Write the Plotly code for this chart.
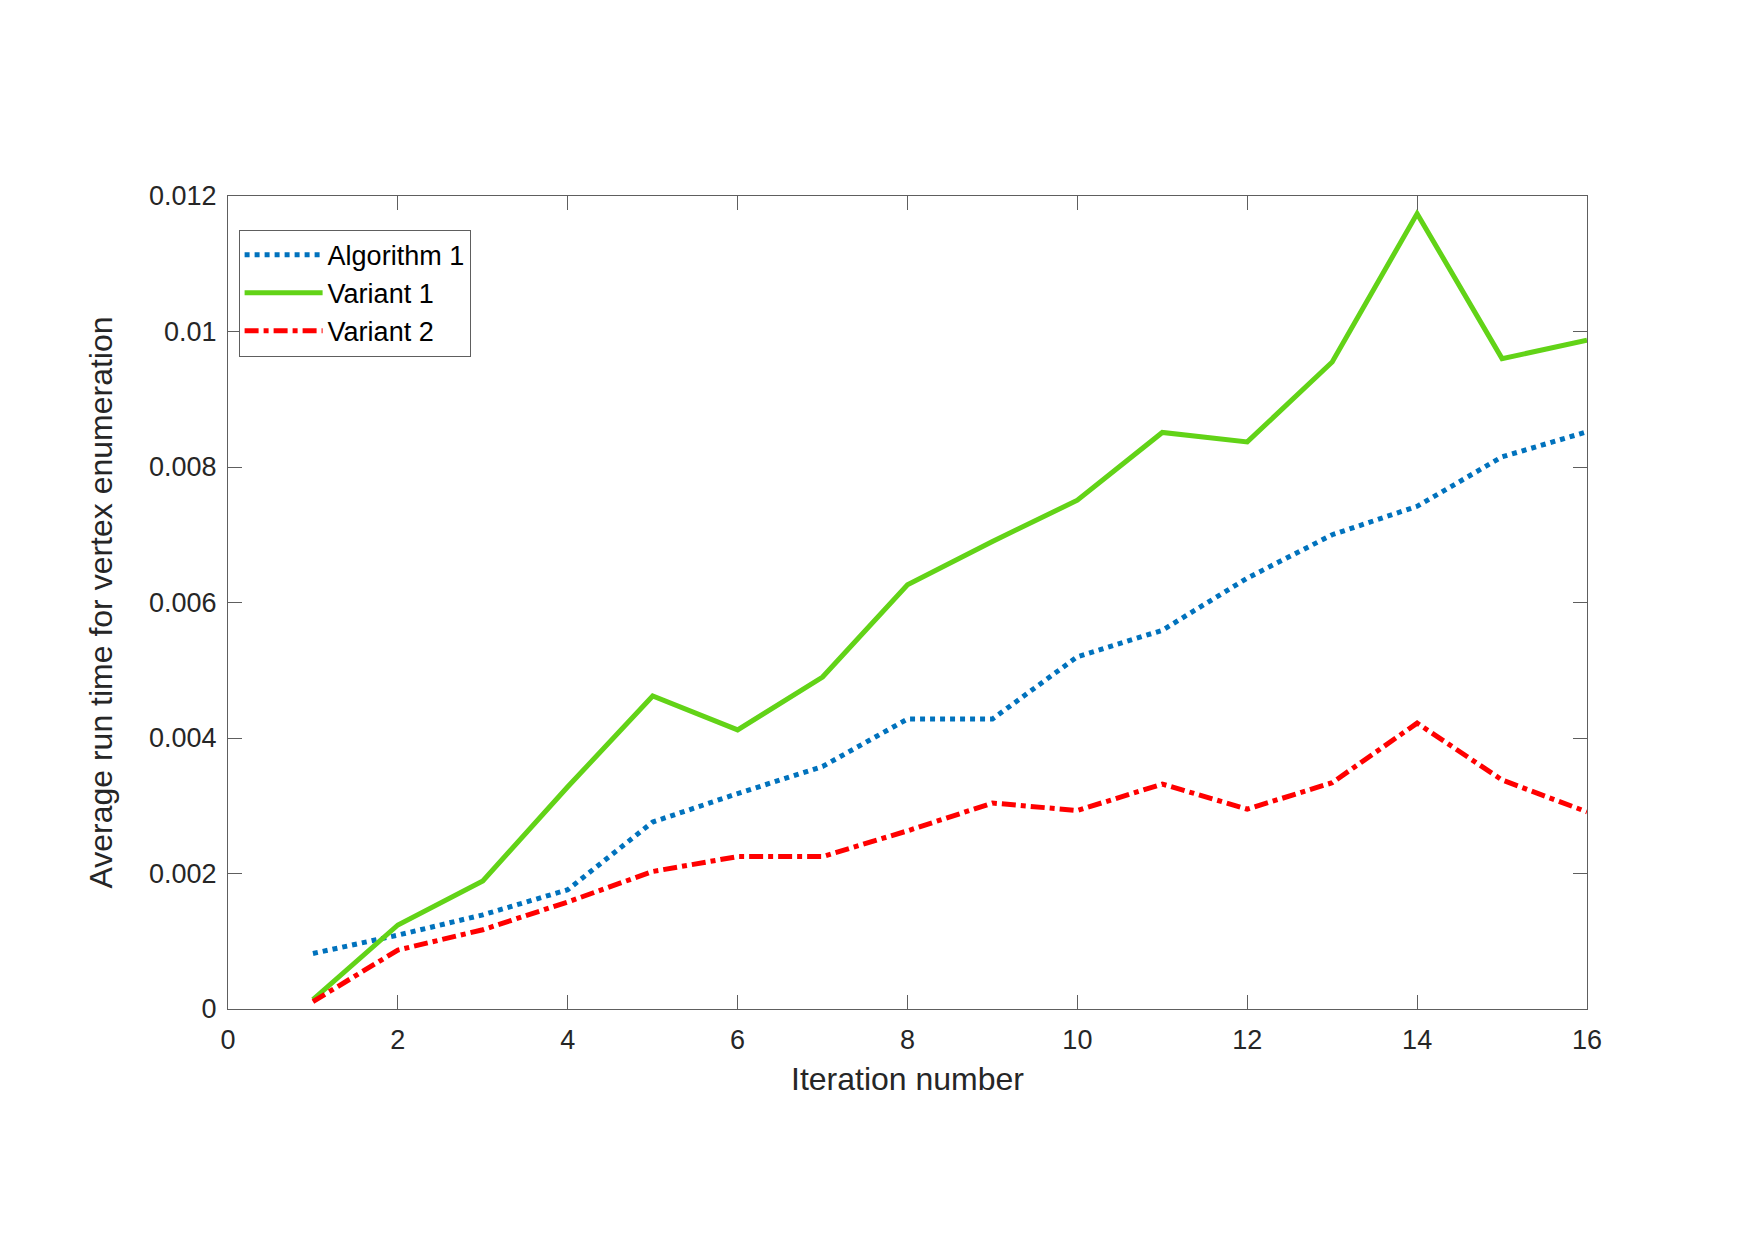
import plotly.graph_objects as go

iterations = list(range(1, 17))
algorithm_1 = [0.00082, 0.00109, 0.00139, 0.00176, 0.00276, 0.00318, 0.00358, 0.00428,
               0.00428, 0.00520, 0.00559, 0.00636, 0.00700, 0.00742, 0.00815, 0.00852]
variant_1 = [0.00014, 0.00124, 0.00189, 0.00328, 0.00462, 0.00412, 0.00490, 0.00626,
             0.00690, 0.00751, 0.00851, 0.00837, 0.00955, 0.01174, 0.00960, 0.00987]
variant_2 = [0.00011, 0.00087, 0.00117, 0.00158, 0.00203, 0.00225, 0.00225, 0.00263,
             0.00304, 0.00293, 0.00332, 0.00295, 0.00334, 0.00422, 0.00338, 0.00291]

x_ticks = [0, 2, 4, 6, 8, 10, 12, 14, 16]
y_ticks = [0, 0.002, 0.004, 0.006, 0.008, 0.01, 0.012]
y_tick_labels = ["0", "0.002", "0.004", "0.006", "0.008", "0.01", "0.012"]

FONT = "Liberation Sans, Arial, Helvetica, sans-serif"
TXT = "#262626"
AX = "#5e5e5e"

fig = go.Figure()
fig.add_trace(go.Scatter(x=iterations, y=algorithm_1, mode="lines", name="Algorithm 1",
                         line=dict(color="#0072BD", width=5, dash="dot")))
fig.add_trace(go.Scatter(x=iterations, y=variant_1, mode="lines", name="Variant 1",
                         line=dict(color="#62D317", width=5, dash="solid")))
fig.add_trace(go.Scatter(x=iterations, y=variant_2, mode="lines", name="Variant 2",
                         line=dict(color="#FF0000", width=5, dash="14px,5px,5px,5px")))

fig.update_layout(
    width=1755, height=1240,
    margin=dict(l=228, r=168, t=196, b=231, autoexpand=False),
    paper_bgcolor="white", plot_bgcolor="white",
    font=dict(family=FONT, color=TXT, size=27),
    showlegend=True,
    legend=dict(x=0.0078, y=0.9587, xanchor="left", yanchor="top",
                bgcolor="white", bordercolor=AX, borderwidth=1,
                font=dict(family=FONT, size=27, color="#000000"),
                tracegroupgap=0, itemwidth=78),
)
fig.update_xaxes(
    range=[0, 16], tickvals=x_ticks, ticktext=[str(v) for v in x_ticks],
    showline=True, linecolor=AX, linewidth=1.2, mirror="ticks",
    ticks="inside", ticklen=14, tickcolor=AX, tickwidth=1.2,
    showgrid=False, zeroline=False, ticklabelstandoff=6,
    tickfont=dict(size=27, color=TXT, family=FONT),
    title=dict(text="Iteration number", font=dict(size=32, color=TXT, family=FONT), standoff=14),
    automargin=False,
)
fig.update_yaxes(
    range=[0, 0.012], tickvals=y_ticks, ticktext=y_tick_labels,
    showline=True, linecolor=AX, linewidth=1.2, mirror="ticks",
    ticks="inside", ticklen=14, tickcolor=AX, tickwidth=1.2,
    showgrid=False, zeroline=False, ticklabelstandoff=5,
    tickfont=dict(size=27, color=TXT, family=FONT),
    title=dict(text="Average run time for vertex enumeration",
               font=dict(size=32, color=TXT, family=FONT), standoff=26),
    automargin=False,
)

fig.write_html("out.html")
